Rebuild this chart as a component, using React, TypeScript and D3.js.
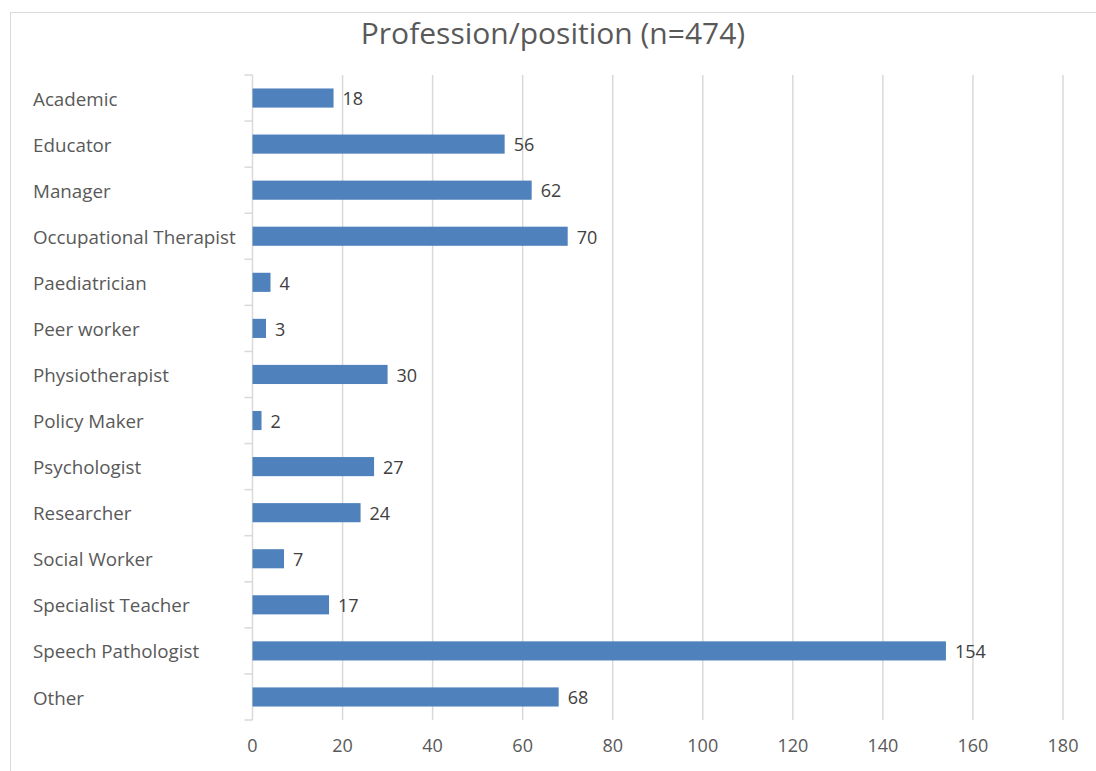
import React from "react";
import * as d3 from "d3";

const categories = [
  "Academic",
  "Educator",
  "Manager",
  "Occupational Therapist",
  "Paediatrician",
  "Peer worker",
  "Physiotherapist",
  "Policy Maker",
  "Psychologist",
  "Researcher",
  "Social Worker",
  "Specialist Teacher",
  "Speech Pathologist",
  "Other",
];
const values = [18, 56, 62, 70, 4, 3, 30, 2, 27, 24, 7, 17, 154, 68];
const xTicks = [0, 20, 40, 60, 80, 100, 120, 140, 160, 180];
const title = "Profession/position (n=474)";

export default function App() {
  const W = 1096;
  const H = 771;
  const left = 252.5;
  const right = 1063;
  const top = 75;
  const bottom = 720;
  const font = "'Open Sans', 'Noto Sans', sans-serif";

  const x = d3.scaleLinear().domain([0, 180]).range([left, right]);
  const y = d3
    .scaleBand<string>()
    .domain(categories)
    .range([top, bottom])
    .paddingInner(0.585)
    .paddingOuter(0.2925);
  const step = (bottom - top) / categories.length;
  const boundaries = d3.range(categories.length + 1).map((i) => top + i * step);

  return (
    <svg
      width={W}
      height={H}
      style={{ position: "absolute", left: 0, top: 0, background: "#fff" }}
    >
      <rect x={10.5} y={12.5} width={W} height={H} fill="#fff" stroke="#d9d9d9" strokeWidth={1} />
      <text
        x={553}
        y={44}
        textAnchor="middle"
        fontFamily={font}
        fontSize={30}
        fill="#595959"
      >
        {title}
      </text>
      {xTicks.slice(1).map((t) => (
        <line key={t} x1={x(t)} x2={x(t)} y1={top} y2={bottom} stroke="#d9d9d9" strokeWidth={1.5} />
      ))}
      <line x1={left} x2={left} y1={top} y2={bottom} stroke="#d9d9d9" strokeWidth={1.5} />
      {boundaries.map((b, i) => (
        <line key={i} x1={left - 8} x2={left} y1={b} y2={b} stroke="#d9d9d9" strokeWidth={1.5} />
      ))}
      {categories.map((c, i) => (
        <g key={c}>
          <rect
            x={x(0)}
            y={y(c)!}
            width={x(values[i]) - x(0)}
            height={y.bandwidth()}
            fill="#4F81BD"
          />
          <text
            x={x(values[i]) + 9}
            y={y(c)! + y.bandwidth() / 2 + 1}
            dy="0.35em"
            fontFamily={font}
            fontSize={18}
            fill="#404040"
          >
            {values[i]}
          </text>
          <text
            x={33}
            y={y(c)! + y.bandwidth() / 2 + 1}
            dy="0.35em"
            fontFamily={font}
            fontSize={18.8}
            fill="#595959"
          >
            {c}
          </text>
        </g>
      ))}
      {xTicks.map((t) => (
        <text
          key={t}
          x={x(t)}
          y={746}
          dy="0.35em"
          textAnchor="middle"
          fontFamily={font}
          fontSize={18}
          fill="#595959"
        >
          {t}
        </text>
      ))}
    </svg>
  );
}
